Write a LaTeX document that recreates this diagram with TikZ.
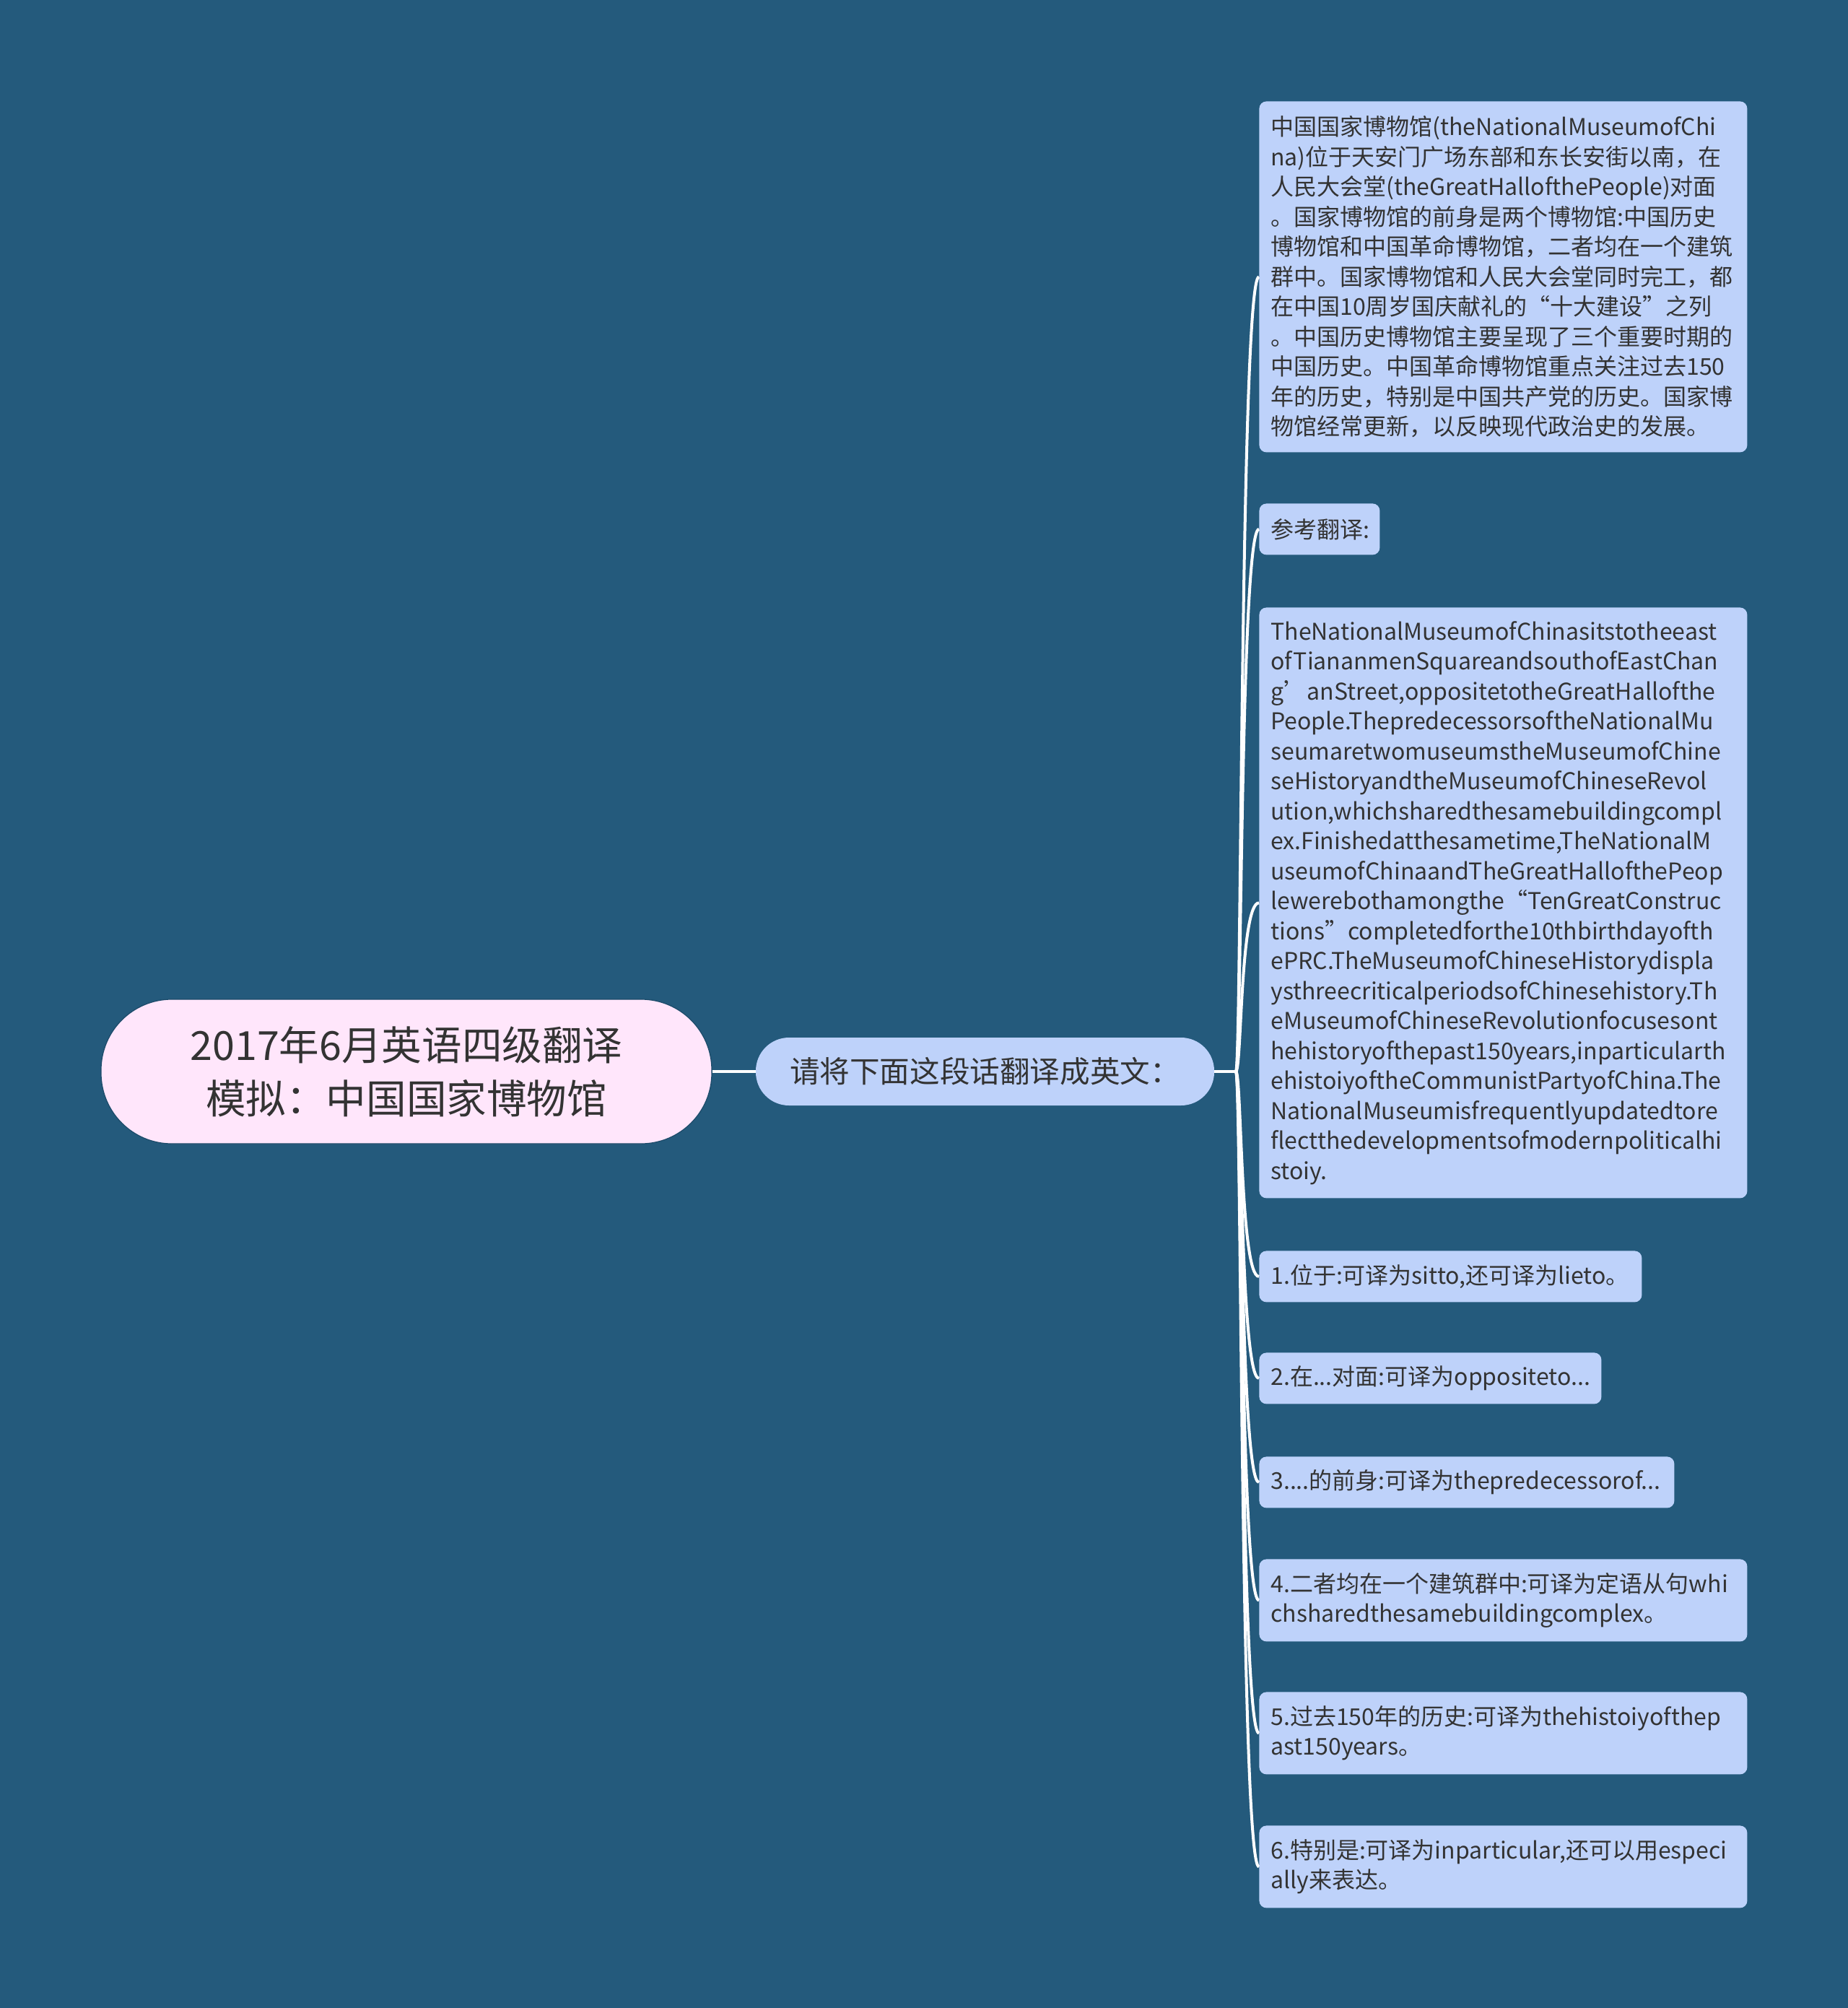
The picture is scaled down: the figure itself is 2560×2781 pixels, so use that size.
\documentclass[tikz,border=0pt]{standalone}
\usepackage{fontspec}
\setmainfont{Noto Sans CJK SC}
\definecolor{bgblue}{HTML}{245A7C}
\definecolor{leafblue}{HTML}{BED2FA}
\definecolor{rootpink}{HTML}{FFE6FB}
\definecolor{inkgray}{HTML}{333333}
\definecolor{rimblue}{HTML}{1B4A69}
\tikzstyle{rootbox} = [rectangle,rounded corners=49pt,fill=rootpink,draw=rimblue,line width=0.6pt,text=inkgray,align=center,font=\fontsize{27.8pt}{37pt}\selectfont]
\tikzstyle{subbox} = [rectangle,rounded corners=23pt,fill=leafblue,text=inkgray,align=center,font=\fontsize{20.8pt}{24pt}\selectfont]
\tikzstyle{leafbox} = [rectangle,rounded corners=5pt,fill=leafblue,text=inkgray,align=left,anchor=north west,inner xsep=8pt,inner ysep=0pt,font=\fontsize{16pt}{20.75pt}\selectfont]
\tikzstyle{branch} = [draw=white,line width=2.2pt]
\tikzstyle{twig} = [draw=white,line width=2pt]
\hyphenpenalty=10000
\exhyphenpenalty=10000

\begin{document}
\begin{tikzpicture}[x=0.5pt,y=-0.5pt]
\fill[bgblue] (0,0) rectangle (2560,2781);

\node [rootbox,minimum width=423pt,minimum height=100pt](t1) at (563,1484){2017年6月英语四级翻译\\模拟：中国国家博物馆};
\node [subbox,minimum width=317.5pt,minimum height=47pt](s1) at (1364.5,1484){请将下面这段话翻译成英文：};
\coordinate (j) at (1712,1484);

\node [leafbox,text width=322pt,minimum height=243pt](l1) at (1744,140){中国国家博物馆(theNationalMuseumofChi\\na)位于天安门广场东部和东长安街以南，在\\人民大会堂(theGreatHallofthePeople)对面\\。国家博物馆的前身是两个博物馆:中国历史\\博物馆和中国革命博物馆，二者均在一个建筑\\群中。国家博物馆和人民大会堂同时完工，都\\在中国10周岁国庆献礼的“十大建设”之列\\。中国历史博物馆主要呈现了三个重要时期的\\中国历史。中国革命博物馆重点关注过去150\\年的历史，特别是中国共产党的历史。国家博\\物馆经常更新，以反映现代政治史的发展。};
\node [leafbox,text width=67.5pt,minimum height=35.5pt](l2) at (1744,697){参考翻译:};
\node [leafbox,text width=322pt,minimum height=409pt](l3) at (1744,841){TheNationalMuseumofChinasitstotheeast\\ofTiananmenSquareandsouthofEastChan\\g’anStreet,oppositetotheGreatHallofthe\\People.ThepredecessorsoftheNationalMu\\seumaretwomuseumstheMuseumofChine\\seHistoryandtheMuseumofChineseRevol\\ution,whichsharedthesamebuildingcompl\\ex.Finishedatthesametime,TheNationalM\\useumofChinaandTheGreatHallofthePeop\\lewerebothamongthe“TenGreatConstruc\\tions”completedforthe10thbirthdayofth\\ePRC.TheMuseumofChineseHistorydispla\\ysthreecriticalperiodsofChinesehistory.Th\\eMuseumofChineseRevolutionfocusesont\\hehistoryofthepast150years,inparticularth\\ehistoiyoftheCommunistPartyofChina.The\\NationalMuseumisfrequentlyupdatedtore\\flectthedevelopmentsofmodernpoliticalhi\\stoiy.};
\node [leafbox,text width=249pt,minimum height=35.5pt](l4) at (1744,1732){1.位于:可译为sitto,还可译为lieto。};
\node [leafbox,text width=221pt,minimum height=35.5pt](l5) at (1744,1873){2.在...对面:可译为oppositeto...};
\node [leafbox,text width=271.5pt,minimum height=35.5pt](l6) at (1744,2017){3....的前身:可译为thepredecessorof...};
\node [leafbox,text width=322pt,minimum height=57pt](l7) at (1744,2159){4.二者均在一个建筑群中:可译为定语从句whi\\chsharedthesamebuildingcomplex。};
\node [leafbox,text width=322pt,minimum height=57pt](l8) at (1744,2343){5.过去150年的历史:可译为thehistoiyofthep\\ast150years。};
\node [leafbox,text width=322pt,minimum height=57pt](l9) at (1744,2528){6.特别是:可译为inparticular,还可以用especi\\ally来表达。};

\draw[branch](t1.east)--(s1.west);
\draw[branch](s1.east)--(j);
\foreach \i in {1,...,9}
  \draw[twig](j) .. controls +(8,0) and +(-26,0) .. (l\i.west);

\end{tikzpicture}
\end{document}
